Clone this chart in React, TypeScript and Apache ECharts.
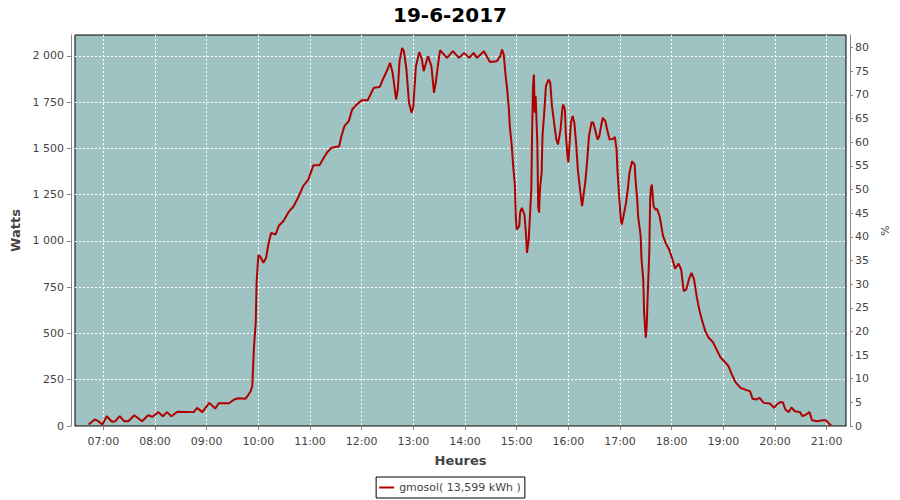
import React, { useEffect, useRef } from "react";
import * as echarts from "echarts";

const titleText = "19-6-2017";
const seriesName = "gmosol( 13,599 kWh )";

const times: string[] = [
  "06:43","06:50","06:53","06:59","07:04","07:10","07:14","07:19","07:24","07:29",
  "07:36","07:45","07:52","07:57","08:04","08:09","08:14","08:19","08:26","08:45",
  "08:49","08:55","09:03","09:10","09:14","09:26","09:32","09:37","09:45","09:48",
  "09:51","09:53","09:54","09:55","09:57","09:58","10:00","10:02","10:06","10:09",
  "10:12","10:15","10:20","10:24","10:29","10:35","10:41","10:47","10:52","10:58",
  "11:04","11:11","11:16","11:20","11:25","11:34","11:36","11:40","11:45","11:49",
  "11:53","12:00","12:07","12:14","12:21","12:25","12:30","12:33","12:36","12:40",
  "12:42","12:44","12:47","12:49","12:52","12:55","12:58","13:00","13:03","13:07",
  "13:10","13:12","13:17","13:21","13:24","13:26","13:29","13:31","13:39","13:46",
  "13:53","13:59","14:05","14:10","14:14","14:22","14:29","14:37","14:41","14:43",
  "14:45","14:47","14:49","14:51","14:52","14:54","14:56","14:58","14:59","15:00",
  "15:03","15:04","15:06","15:09","15:11","15:12","15:14","15:15","15:17","15:18",
  "15:19","15:20","15:21","15:22","15:24","15:25","15:26","15:27","15:29","15:30",
  "15:32","15:34","15:37","15:39","15:41","15:44","15:46","15:48","15:51","15:53",
  "15:54","15:56","15:57","15:59","16:00","16:01","16:03","16:05","16:07","16:09",
  "16:11","16:14","16:16","16:17","16:20","16:22","16:24","16:27","16:29","16:31",
  "16:34","16:36","16:38","16:40","16:43","16:45","16:48","16:52","16:54","16:56",
  "16:57","16:59","17:01","17:02","17:04","17:07","17:09","17:11","17:14","17:17",
  "17:18","17:20","17:21","17:24","17:25","17:27","17:28","17:29","17:30","17:31",
  "17:32","17:34","17:35","17:36","17:37","17:38","17:39","17:41","17:43","17:46",
  "17:48","17:50","17:53","17:57","18:01","18:04","18:08","18:11","18:14","18:17",
  "18:20","18:23","18:26","18:29","18:32","18:35","18:39","18:43","18:48","18:52",
  "18:57","19:02","19:06","19:10","19:14","19:20","19:27","19:31","19:34","19:38",
  "19:42","19:47","19:54","19:59","20:02","20:06","20:09","20:12","20:16","20:19",
  "20:23","20:29","20:32","20:36","20:40","20:43","20:49","20:55","20:59","21:02",
  "21:05"
];

const watts: number[] = [
  8,35,30,8,53,23,26,53,26,26,
  58,26,58,50,75,53,75,53,77,75,
  98,75,125,95,123,123,143,150,147,165,
  188,215,330,431,558,774,922,918,882,909,
  990,1044,1035,1084,1107,1156,1188,1242,1296,1332,
  1410,1410,1450,1480,1504,1512,1558,1621,1648,1711,
  1732,1761,1761,1828,1833,1877,1927,1963,1909,1765,
  1819,1972,2044,2026,1927,1747,1693,1729,1945,2021,
  1981,1918,1999,1945,1801,1855,1963,2031,1990,2026,
  1990,2017,1990,2017,1990,2026,1967,1972,1999,2035,
  2008,1900,1819,1711,1621,1531,1404,1296,1134,1062,
  1080,1153,1179,1143,1026,936,1008,1098,1278,1603,
  1837,1900,1693,1783,1531,1188,1153,1278,1369,1567,
  1693,1837,1873,1855,1729,1621,1549,1522,1603,1711,
  1738,1711,1585,1459,1425,1495,1639,1675,1639,1531,
  1387,1261,1188,1224,1332,1441,1567,1642,1639,1603,
  1549,1567,1621,1666,1648,1603,1549,1552,1563,1495,
  1387,1242,1116,1089,1134,1206,1278,1369,1431,1413,
  1332,1224,1134,1026,900,792,612,540,477,540,
  684,936,1224,1288,1305,1242,1188,1170,1174,1134,
  1080,1026,990,954,900,850,878,846,729,738,
  792,828,792,702,630,576,513,477,453,414,
  369,345,323,278,237,206,194,188,147,143,
  152,125,122,98,116,129,129,89,75,100,
  80,75,53,62,75,31,26,31,31,17,
  3
];

const xMinHours = 6.452;
const xMaxHours = 21.374;
const wattsMax = 2113.5;
const pctMax = 82.68;
const wattsTick = 250;
const pctTick = 5;
const hourTick = 1;

const FONT = "DejaVu Sans";
const LABEL_COLOR = "#444444";
const AXIS_COLOR = "#888888";

function toHours(t: string): number {
  const [h, m] = t.split(":").map(Number);
  return h + m / 60;
}

function fmtThousands(v: number): string {
  return String(Math.round(v)).replace(/\B(?=(\d{3})+(?!\d))/g, " ");
}

export default function App() {
  const ref = useRef<HTMLDivElement>(null);

  useEffect(() => {
    if (!ref.current) return;
    const chart = echarts.init(ref.current, undefined, { renderer: "svg" });
    const data = times.map((t, i) => [toHours(t), watts[i]]);

    chart.setOption({
      animation: false,
      backgroundColor: "#ffffff",
      title: {
        text: titleText,
        left: "center",
        top: 0,
        textStyle: { fontFamily: FONT, fontWeight: "bold", fontSize: 20, color: "#000000" },
      },
      legend: {
        data: [{ name: seriesName, icon: "rect" }],
        left: "center",
        top: 477,
        padding: [4, 4, 4, 3],
        itemWidth: 15,
        itemHeight: 2,
        itemStyle: { color: "#B00000" },
        borderColor: "#000000",
        borderWidth: 1,
        borderRadius: 0,
        backgroundColor: "#ffffff",
        textStyle: { fontFamily: FONT, fontSize: 11, color: LABEL_COLOR, lineHeight: 13 },
      },
      grid: {
        left: 75,
        top: 35,
        width: 771,
        height: 391,
        show: true,
        backgroundColor: "#9EC3C2",
        borderColor: "#000000",
        borderWidth: 1,
        containLabel: false,
      },
      xAxis: {
        type: "value",
        min: xMinHours,
        max: xMaxHours,
        minInterval: hourTick,
        maxInterval: hourTick,
        offset: 4,
        name: "Heures",
        nameLocation: "middle",
        nameGap: 24,
        nameTextStyle: { fontFamily: FONT, fontWeight: "bold", fontSize: 13, color: LABEL_COLOR },
        axisLine: { show: true, lineStyle: { color: AXIS_COLOR } },
        axisTick: { show: true, length: 4, lineStyle: { color: AXIS_COLOR } },
        axisLabel: {
          fontFamily: FONT,
          fontSize: 11,
          color: LABEL_COLOR,
          margin: 6,
          showMinLabel: false,
          showMaxLabel: false,
          formatter: (v: number) => {
            if (Math.abs(v - Math.round(v)) > 1e-6) return "";
            const h = Math.round(v);
            return (h < 10 ? "0" : "") + h + ":00";
          },
        },
        splitLine: {
          show: true,
          showMinLine: false,
          showMaxLine: false,
          lineStyle: { color: "#ffffff", type: [2, 2], width: 1 },
        },
      },
      yAxis: [
        {
          type: "value",
          min: 0,
          max: wattsMax,
          minInterval: wattsTick,
          maxInterval: wattsTick,
          position: "left",
          offset: 4,
          name: "Watts",
          nameLocation: "middle",
          nameGap: 32,
          nameRotate: 90,
          nameTextStyle: { fontFamily: FONT, fontWeight: "bold", fontSize: 13, color: LABEL_COLOR },
          axisLine: { show: true, lineStyle: { color: AXIS_COLOR } },
          axisTick: { show: true, length: 4, lineStyle: { color: AXIS_COLOR } },
          axisLabel: {
            fontFamily: FONT,
            fontSize: 11,
            color: LABEL_COLOR,
            margin: 7,
            showMaxLabel: false,
            formatter: (v: number) => (v % wattsTick === 0 ? fmtThousands(v) : ""),
          },
          splitLine: {
            show: true,
            showMinLine: false,
            showMaxLine: false,
            lineStyle: { color: "#ffffff", type: [2, 2], width: 1 },
          },
        },
        {
          type: "value",
          min: 0,
          max: pctMax,
          minInterval: pctTick,
          maxInterval: pctTick,
          position: "right",
          offset: 4,
          name: "%",
          nameLocation: "middle",
          nameGap: 24,
          nameRotate: 90,
          nameTextStyle: { fontFamily: FONT, fontSize: 11, color: LABEL_COLOR },
          axisLine: { show: true, lineStyle: { color: AXIS_COLOR } },
          axisTick: { show: true, length: 3, lineStyle: { color: AXIS_COLOR } },
          axisLabel: {
            fontFamily: FONT,
            fontSize: 11,
            color: LABEL_COLOR,
            margin: 5,
            showMaxLabel: false,
            formatter: (v: number) => (v % pctTick === 0 ? String(v) : ""),
          },
          splitLine: { show: false },
        },
      ],
      series: [
        {
          name: seriesName,
          type: "line",
          yAxisIndex: 0,
          data,
          symbol: "none",
          showSymbol: false,
          lineStyle: { color: "#B00000", width: 2 },
          itemStyle: { color: "#B00000" },
          z: 3,
        },
      ],
    });

    return () => chart.dispose();
  }, []);

  return (
    <div
      ref={ref}
      style={{ position: "fixed", left: 0, top: 0, width: 900, height: 500 }}
    />
  );
}
